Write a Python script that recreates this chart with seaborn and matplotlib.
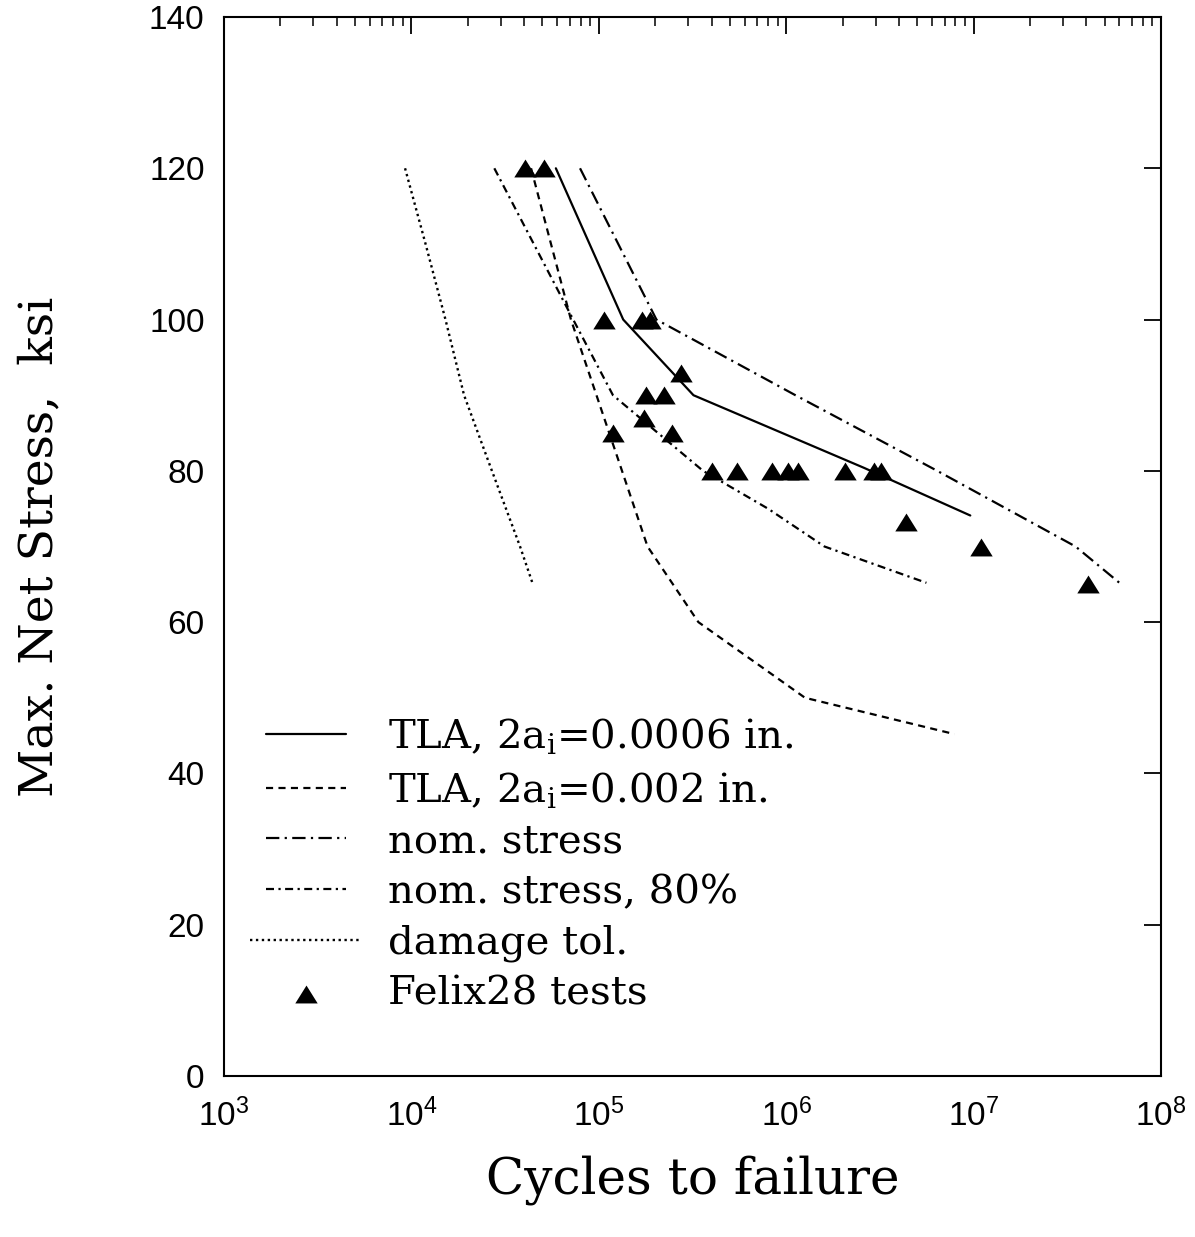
import numpy as np
import pandas as pd
import matplotlib
matplotlib.use("Agg")
import matplotlib.pyplot as plt
import seaborn as sns
from matplotlib.ticker import LogLocator, NullFormatter, NullLocator, FixedLocator
from matplotlib.legend_handler import HandlerLine2D

# ---------------- data ----------------
tla_0006_N = [5.9e4, 1.35e5, 3.2e5, 2.6e6, 9.6e6]
tla_0006_S = [120, 100, 90, 80.4, 74.1]

tla_002_N = [4.35e4, 7.1e4, 1.33e5, 1.82e5, 3.4e5, 1.26e6, 7.9e6]
tla_002_S = [120, 100, 80, 70, 60, 50, 45.2]

nom_N = [7.94e4, 2.03e5, 1.12e6, 6.4e6, 3.5e7, 6.0e7]
nom_S = [120, 100, 90, 80, 70, 65.2]

nom80_N = [2.77e4, 7.3e4, 1.19e5, 3.6e5, 8.0e5, 1.6e6, 5.6e6]
nom80_S = [120, 100, 90, 80, 75, 70, 65.2]

dt_N = [9.25e3, 1.19e4, 1.52e4, 1.91e4, 2.69e4, 3.8e4, 4.45e4]
dt_S = [120, 110, 100, 90, 80, 70, 65]

tests_N = [4.04e4, 5.12e4, 1.06e5, 1.69e5, 1.87e5, 2.75e5, 1.78e5, 2.24e5,
           1.74e5, 1.19e5, 2.46e5, 4.0e5, 5.45e5, 8.39e5, 1.02e6, 1.16e6,
           2.07e6, 2.93e6, 3.19e6, 4.36e6, 1.09e7, 4.06e7]
tests_S = [120, 120, 100, 100, 100, 93, 90, 90,
           87, 85, 85, 80, 80, 80, 80, 80,
           80, 80, 80, 73.3, 70, 65]

labels = ["TLA, 2a$_\\mathrm{i}$=0.0006 in.",
          "TLA, 2a$_\\mathrm{i}$=0.002 in.",
          "nom. stress",
          "nom. stress, 80%",
          "damage tol.",
          "Felix28 tests"]

x_ticks = [1e3, 1e4, 1e5, 1e6, 1e7, 1e8]
y_ticks = [0, 20, 40, 60, 80, 100, 120, 140]

# ---------------- style ----------------
sns.set_theme(style="white")
plt.rcParams["font.family"] = ["Liberation Sans", "DejaVu Sans"]
plt.rcParams["mathtext.fontset"] = "dejavuserif"
plt.rcParams["axes.edgecolor"] = "black"
plt.rcParams["axes.labelcolor"] = "black"
plt.rcParams["axes.linewidth"] = 1.5
plt.rcParams["text.color"] = "black"
plt.rcParams["xtick.color"] = "black"
plt.rcParams["ytick.color"] = "black"
plt.rcParams["xtick.labelcolor"] = "black"
plt.rcParams["ytick.labelcolor"] = "black"

serif = "DejaVu Serif"

fig = plt.figure(figsize=(11.95, 12.37), dpi=100)
ax = fig.add_axes([224 / 1195, 1 - 1076 / 1237, 937 / 1195, 1059 / 1237])

curves = [
    (tla_0006_N, tla_0006_S, "-", 1.6, labels[0]),
    (tla_002_N, tla_002_S, (0, (3.2, 2.4)), 1.6, labels[1]),
    (nom_N, nom_S, (0, (6.0, 2.4, 1.0, 2.4)), 1.6, labels[2]),
    (nom80_N, nom80_S, (0, (3.6, 2.0, 1.0, 2.0)), 1.6, labels[3]),
    (dt_N, dt_S, (0, (1.0, 1.5)), 1.7, labels[4]),
]
for xs, ys, ls, w, lab in curves:
    df = pd.DataFrame({"N": xs, "S": ys})
    sns.lineplot(data=df, x="N", y="S", ax=ax, color="black", linewidth=w,
                 linestyle=ls, label=lab, sort=False, estimator=None)

tri = [(-1, -0.8), (1, -0.8), (0, 0.8), (-1, -0.8)]
sns.scatterplot(x=tests_N, y=tests_S, ax=ax, marker=tri, s=260, color="black",
                edgecolor="black", linewidth=0, label=labels[5], zorder=3)

ax.set_xscale("log")
ax.set_xlim(1e3, 1e8)
ax.set_ylim(0, 140)
ax.xaxis.set_major_locator(FixedLocator(x_ticks))
ax.xaxis.set_minor_locator(LogLocator(base=10, subs=np.arange(2, 10)))
ax.xaxis.set_minor_formatter(NullFormatter())
ax.yaxis.set_major_locator(FixedLocator(y_ticks))
ax.yaxis.set_minor_locator(NullLocator())

ax.tick_params(axis="both", which="major", direction="in", top=True, right=True,
               length=12, width=1.3, labelsize=24)
ax.tick_params(axis="x", which="major", pad=16)
ax.tick_params(axis="y", which="major", pad=14)
ax.tick_params(axis="x", which="minor", direction="in", top=True,
               length=6.5, width=1.1)

ax.set_xlabel("Cycles to failure", fontfamily=serif, fontsize=36, labelpad=16)
ax.set_ylabel("Max. Net Stress,  ksi", fontfamily=serif, fontsize=34, labelpad=62)


class LongLineHandler(HandlerLine2D):
    """Legend line handle drawn wider than the others (as in the reference)."""
    def create_artists(self, legend, orig_handle, xdescent, ydescent, width,
                       height, fontsize, trans):
        ext_l, ext_r = 11.5, 9.4
        return super().create_artists(legend, orig_handle, xdescent + ext_l,
                                      ydescent, width + ext_l + ext_r, height,
                                      fontsize, trans)


h, l = ax.get_legend_handles_labels()
leg = ax.legend(h, l, loc="upper left",
                bbox_to_anchor=((266 - 224) / 937, 1 - (716 - 17) / 1059),
                frameon=False, prop={"family": serif, "size": 29},
                handlelength=1.98, handletextpad=1.04, labelspacing=0.34,
                borderpad=0, borderaxespad=0, scatterpoints=1,
                handler_map={h[4]: LongLineHandler()})

for sp in ax.spines.values():
    sp.set_visible(True)
    sp.set_color("black")

fig.savefig("out.png", dpi=100, facecolor="white")
